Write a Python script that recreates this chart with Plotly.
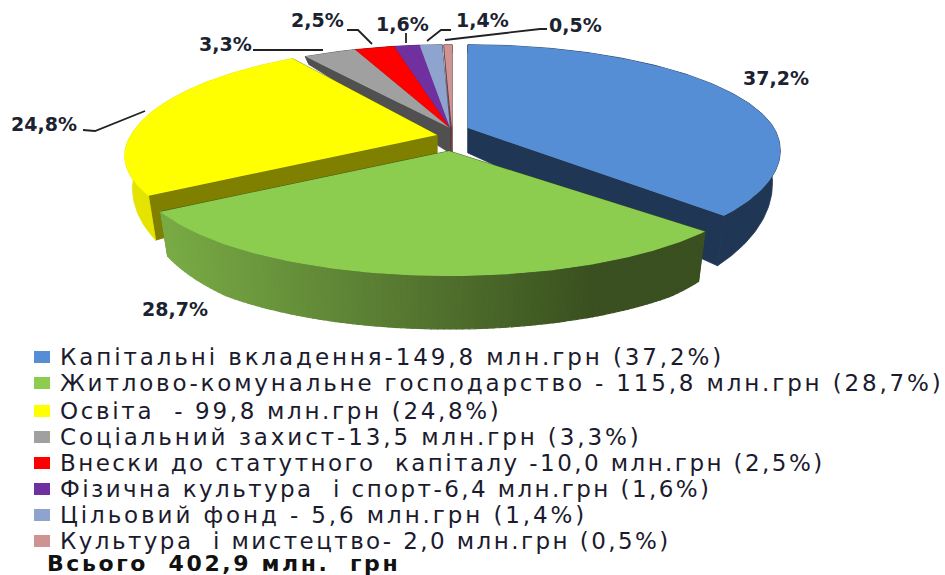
import math
import plotly.graph_objects as go

percents = [37.2, 28.7, 24.8, 3.3, 2.5, 1.6, 1.4, 0.5]
legend_labels = [
    "Капітальні вкладення-149,8 млн.грн (37,2%)",
    "Житлово-комунальне господарство - 115,8 млн.грн (28,7%)",
    "Освіта  - 99,8 млн.грн (24,8%)",
    "Соціальний захист-13,5 млн.грн (3,3%)",
    "Внески до статутного  капіталу -10,0 млн.грн (2,5%)",
    "Фізична культура  і спорт-6,4 млн.грн (1,6%)",
    "Цільовий фонд - 5,6 млн.грн (1,4%)",
    "Культура  і мистецтво- 2,0 млн.грн (0,5%)",
]
total_label = "Всього  402,9 млн.  грн"
legend_spacing = [2.9, 2.84, 2.67, 2.9, 2.43, 2.42, 2.9, 2.44]
top_colors = ["#558ED5", "#8CCD50", "#FFFF00", "#A0A0A0", "#FF0000", "#7030A0", "#8EA4CE", "#D09393"]
wall_colors = ["#203655", None, "#E4E400", "#505050", "#7A0000", "#3A1A55", "#46526C", "#6A4040"]
cut_colors = ["#203655", "#3B5220", "#808000", "#505050", "#7A0000", "#3A1A55", "#46526C", "#6A4040"]
apices = [(468, 128), (449, 151), (437, 135), (450, 128), (450, 128), (450, 128), (450, 128), (452, 128)]
front_scale = [1.09, 1, 1, 1, 1, 1, 1, 1]
back_scale = [1, 1, 1.07, 1, 1, 1, 1, 1]

RX, RY, K = 306, 100, 0.2
LEAN = 0.975
W, H = 945, 575


def wall_h(depth):
    return max(8, min(53, 25 + 36 * depth))


def project(theta, i):
    ax, ay = apices[i]
    sx, sy = math.sin(theta), -math.cos(theta)
    d = 1 - K * sy
    x = RX * sx / d
    y = RY * sy / d * (front_scale[i] if sy > 0 else back_scale[i])
    return ax + x, ay + y, ax + x * LEAN, ay + y + wall_h(sy)


def poly(fig, xs, ys, color, lw=0):
    fig.add_trace(go.Scatter(x=xs, y=ys, mode="lines", fill="toself", fillcolor=color,
                             line=dict(width=lw, color=color), hoverinfo="skip", showlegend=False))


def mix(a, b, t):
    return "rgb(%d,%d,%d)" % tuple(a[i] + (b[i] - a[i]) * t for i in range(3))


fig = go.Figure()
cum = [0]
for p in percents:
    cum.append(cum[-1] + p)
scale = 2 * math.pi / cum[-1]


def slice_arc(i):
    t0, t1 = cum[i] * scale, cum[i + 1] * scale
    n = max(3, int((t1 - t0) * 60))
    return [project(t0 + (t1 - t0) * j / n, i) for j in range(n + 1)]


def draw_walls(i):
    ax, ay = apices[i]
    arc = slice_arc(i)
    ah = wall_h(0)
    for e in (arc[-1], arc[0]):
        poly(fig, [ax, e[0], e[2], ax, ax], [ay, e[1], e[3], ay + ah, ay], cut_colors[i], lw=0.8)
    if wall_colors[i] is None:
        xmin, xmax = min(a[0] for a in arc), max(a[0] for a in arc)
        for a, b in zip(arc, arc[1:]):
            t = ((a[0] + b[0]) / 2 - xmin) / (xmax - xmin)
            col = mix((122, 172, 70), (58, 80, 32), min(1, t * 1.25))
            poly(fig, [a[0], b[0], b[2], a[2], a[0]], [a[1], b[1], b[3], a[3], a[1]], col, lw=1.2)
    else:
        xs = [a[0] for a in arc] + [a[2] for a in reversed(arc)]
        ys = [a[1] for a in arc] + [a[3] for a in reversed(arc)]
        poly(fig, xs + xs[:1], ys + ys[:1], wall_colors[i], lw=0.8)


def draw_top(i):
    ax, ay = apices[i]
    arc = slice_arc(i)
    poly(fig, [ax] + [a[0] for a in arc] + [ax], [ay] + [a[1] for a in arc] + [ay], top_colors[i])


for i in [7, 6, 5, 4, 3]:
    draw_walls(i)
for i in [3, 4, 5, 6, 7]:
    draw_top(i)
for i in [2, 0, 1]:
    draw_walls(i)
    draw_top(i)

label_pos = [(776, 78), (175, 309), (44, 124), (225, 44), (317, 20), (402, 24), (482, 20), (575, 25)]
for v, (x, y) in zip(percents, label_pos):
    fig.add_annotation(x=x, y=y, text=f"{v:.1f}%".replace(".", ","), showarrow=False, xanchor="center",
                       yanchor="middle", font=dict(family="DejaVu Sans", size=19, color="#1B2230", weight="bold"))

leaders = [
    [(83, 130), (95, 131), (145, 111)],
    [(253, 50), (323, 50)],
    [(347, 30), (358, 30), (372, 44)],
    [(406, 33), (406, 43)],
    [(427, 41), (441, 30), (451, 30)],
    [(445, 40), (540, 29), (547, 29)],
]
shapes = []
for pts in leaders:
    path = "M " + " L ".join(f"{x},{y}" for x, y in pts)
    shapes.append(dict(type="path", path=path, line=dict(color="#222222", width=1.8), layer="above"))

row_y = [357, 383, 411, 437, 463, 489, 515, 541]
for lab, y, c, sp in zip(legend_labels, row_y, top_colors, legend_spacing):
    shapes.append(dict(type="rect", x0=34, x1=50, y0=y - 6, y1=y + 6, fillcolor=c, line=dict(width=0)))
    fig.add_annotation(x=58, y=y, text=f'<span style="letter-spacing:{sp}px">{lab}</span>', showarrow=False,
                       xanchor="left", yanchor="middle",
                       font=dict(family="DejaVu Sans", size=23, color="#1B1B2E"))
fig.add_annotation(x=45, y=563, text=f'<span style="letter-spacing:2.6px">{total_label}</span>', showarrow=False,
                   xanchor="left", yanchor="middle",
                   font=dict(family="DejaVu Sans", size=22, color="#111111", weight="bold"))

fig.update_layout(
    width=W, height=H, margin=dict(l=0, r=0, t=0, b=0), paper_bgcolor="white", plot_bgcolor="white",
    showlegend=False, shapes=shapes,
    xaxis=dict(range=[0, W], visible=False, fixedrange=True),
    yaxis=dict(range=[H, 0], visible=False, fixedrange=True),
)
fig.write_html("out.html", config={"displayModeBar": False},
               post_script="document.body.style.margin='0';document.body.style.overflow='hidden';")
